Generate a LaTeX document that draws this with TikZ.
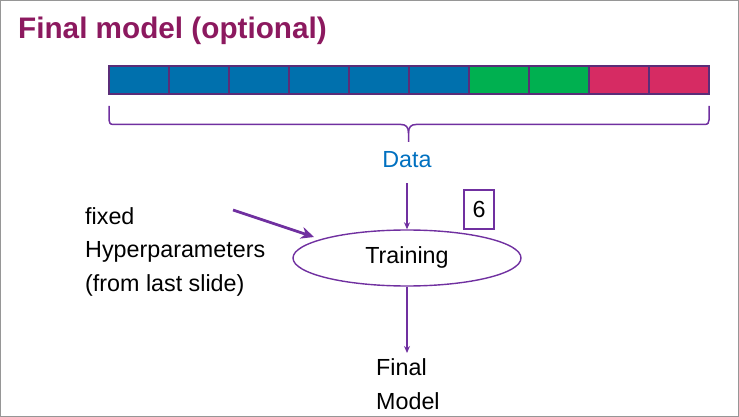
\documentclass[tikz,border=0pt]{standalone}
\usepackage{fontspec}
\setmainfont{Liberation Sans}
\usetikzlibrary{arrows.meta,shapes.geometric}
\definecolor{titlec}{RGB}{140,25,95}
\definecolor{cellblue}{RGB}{0,112,173}
\definecolor{cellgreen}{RGB}{0,176,80}
\definecolor{cellpink}{RGB}{214,43,99}
\definecolor{cellline}{RGB}{90,45,120}
\definecolor{purp}{RGB}{112,48,160}
\definecolor{datablue}{RGB}{0,112,192}
\definecolor{framegray}{RGB}{150,150,150}
\tikzset{
  cell/.style={draw=cellline,line width=1.2pt},
  conn/.style={draw=purp,line width=1.4pt,-{Stealth[length=7pt,width=6pt]}},
  lbl/.style={font=\fontsize{23.3}{33.5}\selectfont,inner sep=0pt,align=left},
  bracel/.style={draw=purp,line width=1.5pt},
}
\begin{document}
\begin{tikzpicture}[x=1pt,y=-1pt]
\useasboundingbox (0,0) rectangle (739,417);
\draw[framegray,line width=1pt] (0.5,0.5) rectangle (738.5,416);
\node[anchor=base west,inner sep=0pt,text=titlec,font=\fontsize{29.7}{31}\selectfont\bfseries] (title) at (18,39) {Final model (optional)};
\foreach \i in {0,...,5} {\path[cell,fill=cellblue] (109+60*\i,66) rectangle (169+60*\i,94);}
\foreach \i in {6,7} {\path[cell,fill=cellgreen] (109+60*\i,66) rectangle (169+60*\i,94);}
\foreach \i in {8,9} {\path[cell,fill=cellpink] (109+60*\i,66) rectangle (169+60*\i,94);}
\draw[bracel] (109,106) -- (109,120) .. controls (109,123) and (110,124.5) .. (114,124.5) -- (401,124.5) .. controls (406,124.5) and (408.5,127) .. (408.5,133) -- (408.5,142);
\draw[bracel] (709,106) -- (709,120) .. controls (709,123) and (708,124.5) .. (704,124.5) -- (416,124.5) .. controls (411,124.5) and (408.5,127) .. (408.5,133);
\node[lbl,text=datablue] (data) at (407,160) {Data};
\node[draw=purp,line width=1.4pt,ellipse,minimum width=228pt,minimum height=56pt,inner sep=0pt] (train) at (407,258) {};
\node[lbl,anchor=center] (traintext) at (407,257) {Training};
\node[draw=purp,line width=1.4pt,minimum width=30pt,minimum height=39pt,inner sep=0pt,font=\fontsize{23.3}{27}\selectfont] (six) at (479,209.5) {6};
\node[lbl,anchor=base west] (hyper) at (85,291) {fixed\\Hyperparameters\\(from last slide)};
\coordinate (hstart) at (233,210);
\coordinate (hend) at (314,237);
\draw[purp,line width=2.8pt,-{Stealth[length=13pt,width=12pt]}] (hstart) -- (hend);
\coordinate (datadown) at (407,183);
\draw[conn] (datadown) -- (train.north);
\node[lbl,anchor=base west] (final) at (376,409) {Final\\Model};
\coordinate (finaltop) at (407,353);
\draw[conn] (train.south) -- (finaltop);
\end{tikzpicture}
\end{document}
